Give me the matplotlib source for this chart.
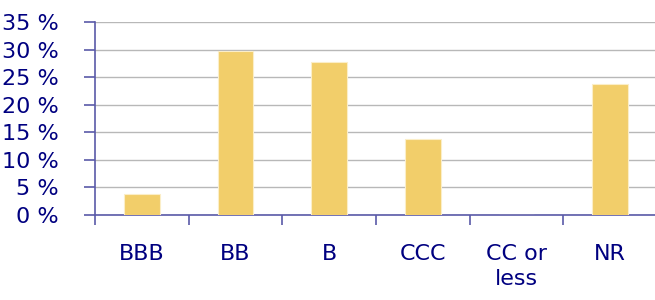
import matplotlib.pyplot as plt
import numpy as np

categories = ['BBB', 'BB', 'B', 'CCC', 'CC or\nless', 'NR']
shares = [3.8, 29.8, 27.8, 13.8, 0.0, 23.8]
yticks = [0, 5, 10, 15, 20, 25, 30, 35]

navy = '#000080'
axis_col = '#5a5aa8'

fig = plt.figure(figsize=(6.55, 3.0), dpi=100)
ax = fig.add_axes([95 / 655, 85 / 300, 562 / 655, 193 / 300])

x = np.arange(len(categories))
ax.bar(x, shares, width=0.38, color='#F2CE6A', edgecolor='#fbeec8', linewidth=0.8, zorder=3)

ax.set_xlim(-0.5, len(categories) - 0.5)
ax.set_ylim(0, 35)
ax.set_yticks(yticks)
ax.set_yticklabels([f'{v} %' for v in yticks], color=navy, fontsize=16)
ax.yaxis.grid(True, color='#b8b8b8', linewidth=1, zorder=0)

# category labels without ticks, boundary ticks at minor positions
ax.set_xticks(x)
ax.set_xticklabels(categories, color=navy, fontsize=16, va='top', linespacing=1.3)
ax.tick_params(axis='x', which='major', length=0, pad=21)
ax.set_xticks(np.arange(-0.5, len(categories), 1.0), minor=True)
ax.tick_params(axis='x', which='minor', length=7, width=1.2, color=axis_col)
ax.tick_params(axis='y', length=8, width=1.2, color=axis_col, pad=18)

for side in ['top', 'right']:
    ax.spines[side].set_visible(False)
for side in ['left', 'bottom']:
    ax.spines[side].set_color(axis_col)
    ax.spines[side].set_linewidth(1.2)

plt.savefig('out.png', dpi=100)
